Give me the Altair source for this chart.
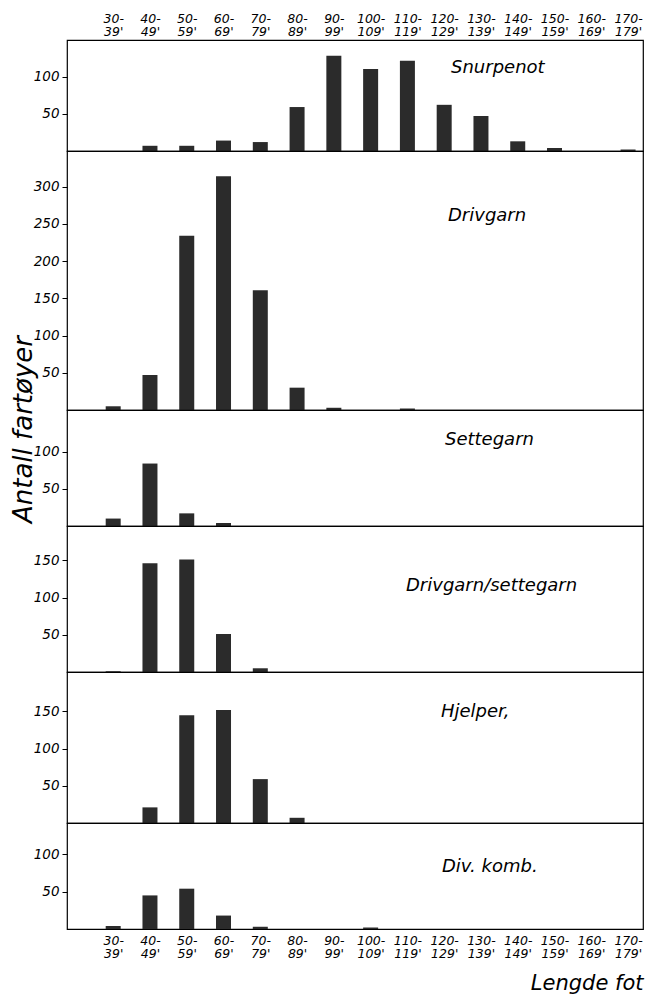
import json
import altair as alt
import pandas as pd

# ---- data ----
range_top = ["30-", "40-", "50-", "60-", "70-", "80-", "90-", "100-", "110-",
             "120-", "130-", "140-", "150-", "160-", "170-"]
range_bot = ["39'", "49'", "59'", "69'", "79'", "89'", "99'", "109'", "119'",
             "129'", "139'", "149'", "159'", "169'", "179'"]

snurpenot = [0, 7, 7, 14, 12, 59, 128, 110, 121, 62, 47, 13, 4, 0, 2]
drivgarn = [5, 47, 234, 314, 161, 30, 3, 0, 2, 0, 0, 0, 0, 0, 0]
settegarn = [10, 84, 17, 4, 0, 0, 0, 0, 0, 0, 0, 0, 0, 0, 0]
drivgarn_settegarn = [1, 146, 151, 51, 5, 0, 0, 0, 0, 0, 0, 0, 0, 0, 0]
hjelper = [0, 21, 145, 152, 59, 7, 0, 0, 0, 0, 0, 0, 0, 0, 0]
div_komb = [4, 45, 54, 18, 3, 0, 0, 2, 0, 0, 0, 0, 0, 0, 0]

names = ["Snurpenot", "Drivgarn", "Settegarn", "Drivgarn/settegarn", "Hjelper,", "Div. komb."]
series = [snurpenot, drivgarn, settegarn, drivgarn_settegarn, hjelper, div_komb]
y_ticks = [[50, 100], [50, 100, 150, 200, 250, 300], [50, 100], [50, 100, 150],
           [50, 100, 150], [50, 100]]

# ---- layout / style ----
W = 576
heights = [111, 259, 116, 146, 151, 106]
ymax = [149, 348, 156, 196, 203, 142]
label_pos = [(384, 28), (381, 65), (378, 30), (339, 60), (374, 40), (375, 44)]
FONT = "DejaVu Sans"
idx = list(range(len(range_top)))

label_expr = "[{}[datum.value], {}[datum.value]]".format(json.dumps(range_top), json.dumps(range_bot))


def make_panel(k):
    df = pd.DataFrame({"i": idx, "n": series[k]})
    axis_kw = dict(values=idx, labelExpr=label_expr, ticks=False, domain=False, grid=False,
                   labelFontSize=12.5, labelFontStyle="italic", labelLineHeight=13.5,
                   labelColor="black", labelFont=FONT)
    if k == 0:
        xaxis = alt.Axis(orient="top", title=None, labelPadding=15, **axis_kw)
    elif k == len(series) - 1:
        xaxis = alt.Axis(orient="bottom", title="Lengde fot", titleX=W, titleY=54,
                         titleAlign="right", titleBaseline="middle", titleFontSize=21,
                         titleFontStyle="italic", titleFontWeight="normal", titleFont=FONT,
                         titleColor="black", labelPadding=5, **axis_kw)
    else:
        xaxis = None
    x = alt.X("i:Q", scale=alt.Scale(domain=[-1.12, 14.27], nice=False, zero=False),
              axis=xaxis, title=None)
    ykw = dict(values=y_ticks[k], grid=False, domain=False, tickSize=5, tickColor="black",
               labelFontSize=13.5, labelFontStyle="italic", labelFont=FONT, labelColor="black",
               labelPadding=3)
    if k == 2:
        yaxis = alt.Axis(title="Antall fartøyer", titleX=-44, titleY=19, titleAngle=270,
                         titleAlign="center", titleBaseline="middle", titleFontSize=26,
                         titleFontStyle="italic", titleFontWeight="normal", titleFont=FONT,
                         titleColor="black", **ykw)
    else:
        yaxis = alt.Axis(title=None, **ykw)
    bars = alt.Chart(df).mark_bar(width=15, color="#2b2b2b").encode(
        x=x,
        y=alt.Y("n:Q", scale=alt.Scale(domain=[0, ymax[k]], nice=False), axis=yaxis),
    )
    lx, ly = label_pos[k]
    txt = alt.Chart(pd.DataFrame({"t": [names[k]]})).mark_text(
        align="left", baseline="middle", fontSize=18, fontStyle="italic", font=FONT,
        color="black"
    ).encode(text="t:N", x=alt.value(lx), y=alt.value(ly))
    return alt.layer(bars, txt).properties(width=W, height=heights[k])


chart = alt.vconcat(*[make_panel(k) for k in range(len(series))], spacing=0,
                    bounds="flush").properties(
    padding={"top": 3, "bottom": 0, "left": 1, "right": 4}
).configure(background="white").configure_view(stroke="black", strokeWidth=1.2)

chart.save("out.html", embed_options={"renderer": "svg", "actions": False})
